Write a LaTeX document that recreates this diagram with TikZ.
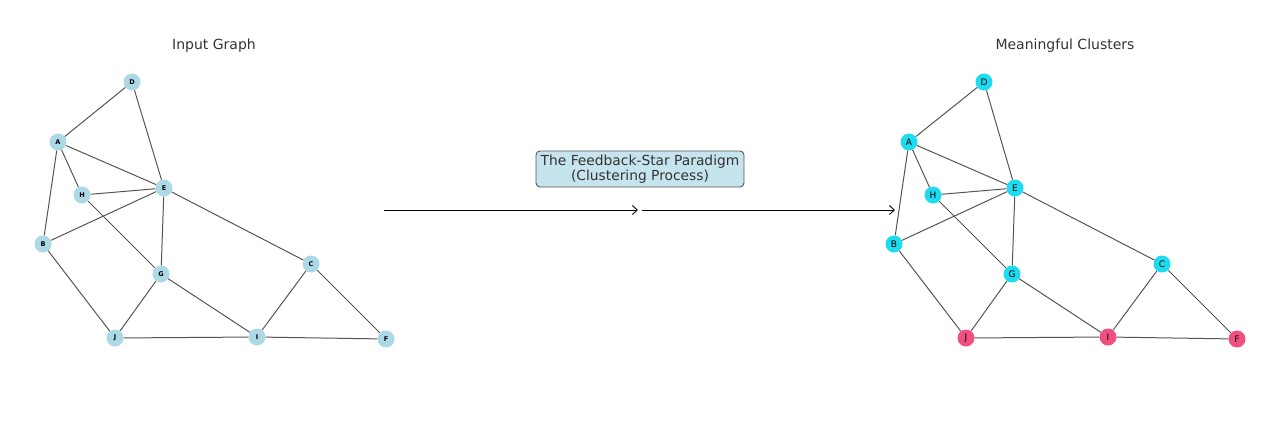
\documentclass[tikz,border=0pt]{standalone}
\usepackage{fontspec}
\setmainfont{DejaVu Sans}
\usetikzlibrary{arrows.meta,positioning}

\definecolor{lblue}{HTML}{ADD8E6}
\definecolor{cyanc}{HTML}{1EDCF0}
\definecolor{pinkc}{HTML}{F0507F}
\definecolor{edgec}{HTML}{555555}
\definecolor{textc}{HTML}{333333}

\tikzset{
  vtx/.style={circle,inner sep=0pt,minimum size=17pt,text=black},
  small/.style={vtx,fill=lblue,font=\fontsize{6.5}{6.5}\selectfont\bfseries},
  clus/.style={vtx,font=\fontsize{9}{9}\selectfont},
  edge/.style={draw=edgec,line width=1pt},
  title/.style={text=textc,font=\fontsize{14}{16}\selectfont}
}

\begin{document}
\begin{tikzpicture}[x=1pt,y=-1pt]
\useasboundingbox (0,0) rectangle (1280,421);

% Titles
\node[title] (tin) at (214,46) {Input Graph};
\node[title] (tout) at (1065,46) {Meaningful Clusters};

% Input graph
\foreach \n/\x/\y in {D/132/82,A/58/142,E/164/188,H/82/195,B/43/244,G/161/274,C/311/264,J/115/338,I/257/337,F/386/339}{
  \node[small] (L\n) at (\x,\y) {\n};
}

% Clusters (same layout, shifted)
\foreach \n/\x/\y/\c in {D/984/82/cyanc,A/909/142/cyanc,E/1015/188/cyanc,H/933/195/cyanc,B/894/244/cyanc,G/1012/274/cyanc,C/1162/264/cyanc,J/966/338/pinkc,I/1108/337/pinkc,F/1237/339/pinkc}{
  \node[clus,fill=\c] (R\n) at (\x,\y) {\n};
}

% Edges
\foreach \u/\v in {A/D,D/E,A/E,A/H,A/B,H/E,B/E,H/G,E/G,E/C,B/J,G/J,G/I,J/I,I/C,C/F,I/F}{
  \draw[edge] (L\u) -- (L\v);
  \draw[edge] (R\u) -- (R\v);
}

% Process box and arrows
\node[draw=edgec,line width=0.9pt,fill=lblue!70,rounded corners=4pt,minimum width=208pt,minimum height=36pt,
      align=center,text=textc,font=\fontsize{13.8}{15}\selectfont] (proc) at (640,169)
      {The Feedback-Star Paradigm\\(Clustering Process)};
\coordinate (s1) at (384,210);
\coordinate (e1) at (638,210);
\coordinate (s2) at (642,210);
\coordinate (e2) at (895,210);
\draw[-{Straight Barb[length=5pt,width=9pt]},line width=0.9pt] (s1) -- (e1);
\draw[-{Straight Barb[length=5pt,width=9pt]},line width=0.9pt] (s2) -- (e2);

\end{tikzpicture}
\end{document}
